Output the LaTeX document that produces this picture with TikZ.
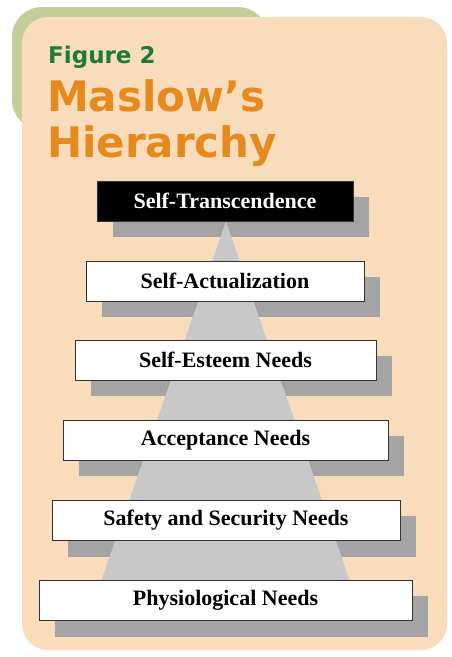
\documentclass[tikz,border=0pt]{standalone}
\usepackage{fontspec}
\newfontfamily\headfont{DejaVu Sans}
\newfontfamily\boxfont{Liberation Serif}
\usepackage{xcolor}
\usepackage{tikz}
\usetikzlibrary{calc,positioning}
\definecolor{peach}{HTML}{F9DCBC}
\definecolor{sage}{HTML}{C5CE9A}
\definecolor{figgreen}{HTML}{1E7A3C}
\definecolor{titleorange}{HTML}{E68A1E}
\definecolor{shadowgrey}{HTML}{A5A4A4}
\definecolor{pyrgrey}{HTML}{C8C8C8}
\pgfdeclarelayer{panel}
\pgfdeclarelayer{mid}
\pgfsetlayers{panel,mid,main}
\tikzset{
  needbox/.style={rectangle, draw=black!80, line width=0.8pt, fill=white,
                  minimum height=40pt, inner sep=0pt,
                  font=\boxfont\bfseries\fontsize{22}{24}\selectfont},
  topbox/.style={needbox, fill=black, text=white},
  figlab/.style={anchor=base west, inner sep=0pt, text=figgreen,
                 font=\headfont\bfseries\fontsize{23}{26}\selectfont},
  titlab/.style={anchor=base west, inner sep=0pt, text=titleorange,
                 font=\headfont\bfseries\fontsize{42}{44}\selectfont}
}

\begin{document}
\begin{tikzpicture}[x=1pt,y=-1pt]
  \useasboundingbox (0,0) rectangle (452,657);
  % panels
  \begin{pgfonlayer}{panel}
    \fill[sage, rounded corners=30pt] (12,7) rectangle (268,130);
    \fill[peach, rounded corners=26pt] (22,17) rectangle (447,650);
  \end{pgfonlayer}
  \node[figlab] (fig) at (48,63) {Figure 2};
  \node[titlab] (t1) at (47,111) {Maslow’s};
  \node[titlab] (t2) at (47,157) {Hierarchy};
  % levels
  \node[topbox, minimum width=256pt] (st) at (225,201) {Self-Transcendence};
  \node[needbox, minimum width=278pt] (sa) at (225,281) {Self-Actualization};
  \node[needbox, minimum width=301pt] (se) at (225.5,360) {Self-Esteem Needs};
  \node[needbox, minimum width=325pt] (ac) at (225.5,440) {Acceptance Needs};
  \node[needbox, minimum width=348pt] (ss) at (226,520.5) {Safety and Security Needs};
  \node[needbox, minimum width=373pt] (ph) at (225.5,600.5) {Physiological Needs};
  % shadows and pyramid
  \begin{pgfonlayer}{mid}
    \foreach \b in {st,sa,se,ac,ss,ph}
      \fill[shadowgrey] ($(\b.north west)+(16,16)$) rectangle ($(\b.south east)+(16,16)$);
    \coordinate (apex) at ($(st.south)+(1,0)$);
    \coordinate (bl) at ($(ph.north)+(-124,0)$);
    \coordinate (br) at ($(ph.north)+(124,0)$);
    \fill[pyrgrey] (apex) -- (br) -- (bl) -- cycle;
  \end{pgfonlayer}
\end{tikzpicture}
\end{document}
